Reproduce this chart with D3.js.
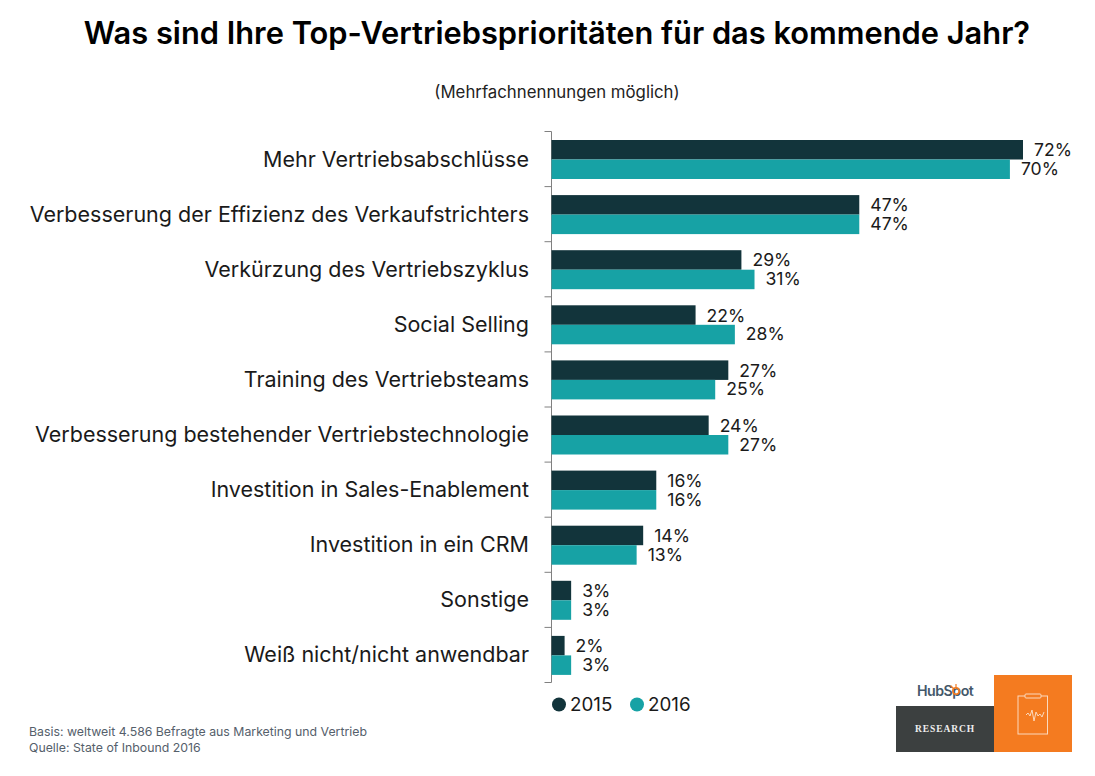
<!DOCTYPE html>
<html><head><meta charset="utf-8">
<script src="https://cdnjs.cloudflare.com/ajax/libs/d3/7.8.5/d3.min.js"></script>
<style>html,body{margin:0;padding:0;background:#fff}svg{display:block}text{font-family:Inter,Lato,sans-serif}</style>
</head><body><svg id="c" width="1095" height="776"></svg>
<script>
const categories=["Mehr Vertriebsabschlüsse","Verbesserung der Effizienz des Verkaufstrichters","Verkürzung des Vertriebszyklus","Social Selling","Training des Vertriebsteams","Verbesserung bestehender Vertriebstechnologie","Investition in Sales-Enablement","Investition in ein CRM","Sonstige","Weiß nicht/nicht anwendbar"];
const seriesNames=["2015","2016"];
const values2015=[72,47,29,22,27,24,16,14,3,2];
const values2016=[70,47,31,28,25,27,16,13,3,3];
const colors=["#12343b","#17a2a5"];
const svg=d3.select("#c");
const x=d3.scaleLinear().domain([0,72]).range([551.5,1023]);
const y=d3.scaleBand().domain(categories).range([131.5,682.5]);
const inner=d3.scaleBand().domain(seriesNames).range([8.5,47.5]);
svg.append("text").attr("x",557).attr("y",44).attr("text-anchor","middle").attr("font-size",30.8).attr("font-weight",600).attr("fill","#000").text("Was sind Ihre Top-Vertriebsprioritäten für das kommende Jahr?");
svg.append("text").attr("x",557).attr("y",97.5).attr("text-anchor","middle").attr("font-size",16.8).attr("fill","#222").text("(Mehrfachnennungen möglich)");
const axis=svg.append("g").attr("transform","translate(551.5,0)");
axis.append("line").attr("y1",131.5).attr("y2",682.5).attr("stroke","#808080");
axis.selectAll("line.t").data(d3.range(categories.length+1)).join("line").attr("class","t").attr("x1",-7).attr("x2",0).attr("y1",i=>131.5+i*y.step()).attr("y2",i=>131.5+i*y.step()).attr("stroke","#808080");
svg.selectAll("text.cat").data(categories).join("text").attr("class","cat").attr("x",529).attr("y",d=>y(d)+y.bandwidth()/2+7.5).attr("text-anchor","end").attr("font-size",21.5).attr("fill","#1a1a1a").text(d=>d);
[values2015,values2016].forEach((vals,s)=>{
  const g=svg.append("g");
  g.selectAll("rect").data(vals).join("rect").attr("x",x(0)).attr("y",(d,i)=>y(categories[i])+inner(seriesNames[s])).attr("width",d=>x(d)-x(0)).attr("height",inner.bandwidth()).attr("fill",colors[s]);
  g.selectAll("text").data(vals).join("text").attr("x",d=>x(d)+11).attr("y",(d,i)=>y(categories[i])+inner(seriesNames[s])+inner.bandwidth()/2+6.5-s*0.7).attr("font-size",17.6).attr("fill","#1a1a1a").text(d=>d+"%");
});
const legendX=[559,637];
seriesNames.forEach((n,i)=>{
  svg.append("circle").attr("cx",legendX[i]).attr("cy",704.5).attr("r",7).attr("fill",colors[i]);
  svg.append("text").attr("x",legendX[i]+11).attr("y",711).attr("font-size",18.8).attr("fill","#1a1a1a").text(n);
});
svg.append("text").attr("x",29).attr("y",736).attr("font-size",12.3).attr("fill","#55606b").text("Basis: weltweit 4.586 Befragte aus Marketing und Vertrieb");
svg.append("text").attr("x",29).attr("y",752).attr("font-size",12.3).attr("fill","#55606b").text("Quelle: State of Inbound 2016");
// logo
const logo=svg.append("g");
logo.append("rect").attr("x",896).attr("y",706).attr("width",98).attr("height",46).attr("fill","#3c4040");
logo.append("rect").attr("x",994).attr("y",675).attr("width",78).attr("height",77).attr("fill","#f47b20");
logo.append("text").attr("x",917).attr("y",696).attr("font-size",14.2).attr("font-weight",600).attr("fill","#44586a").attr("letter-spacing",-0.5).text("HubSpot");
logo.append("circle").attr("cx",956).attr("cy",691).attr("r",3.2).attr("fill","none").attr("stroke","#f47b20").attr("stroke-width",1.6);
logo.append("path").attr("d","M956 688v-4M953.5 688.5l-3 -3").attr("stroke","#f47b20").attr("stroke-width",1.2);
logo.append("text").attr("x",945).attr("y",731.5).attr("text-anchor","middle").attr("font-size",9.5).attr("font-weight",700).attr("letter-spacing",0.9).style("font-family","'Liberation Serif',serif").attr("fill","#eee").text("RESEARCH");
logo.append("rect").attr("x",1018).attr("y",696).attr("width",29.5).attr("height",38).attr("fill","none").attr("stroke","#fbd9bd").attr("stroke-width",1);
logo.append("rect").attr("x",1025).attr("y",694).attr("width",16).attr("height",4).attr("rx",1).attr("fill","#f47b20").attr("stroke","#fbd9bd").attr("stroke-width",1);
logo.append("path").attr("d","M1026 715l2 -2 2 3 2 -6 2 11 2 -9 2 4 2 -2 2 3 2 -5").attr("fill","none").attr("stroke","#fbd9bd").attr("stroke-width",1);
</script></body></html>
